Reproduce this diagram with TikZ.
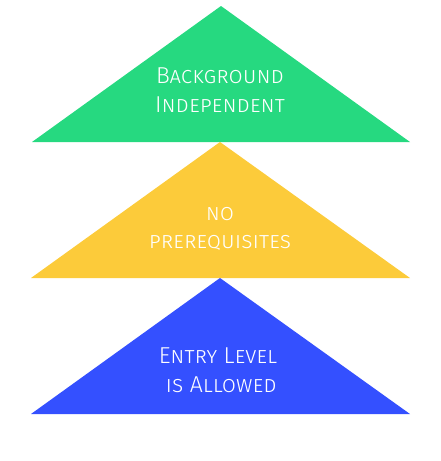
\documentclass[tikz,border=0pt]{standalone}
\usepackage{fontspec}
\setmainfont{Fira Sans Light}[Letters=SmallCaps]
\definecolor{tgreen}{RGB}{38,217,128}
\definecolor{tyellow}{RGB}{252,203,58}
\definecolor{tblue}{RGB}{52,80,255}
\begin{document}
\begin{tikzpicture}[x=1pt, y=-1pt, line join=miter,
                    label/.style={text=white, font=\fontsize{23}{28.5}\selectfont,
                                  align=center, inner sep=0pt}]
  \useasboundingbox (0,0) rectangle (441,461);
  % three stacked triangles, apex on top, bases 136px apart
  \coordinate (gL) at (32, 142);  % green base left
  \coordinate (gR) at (410,142);  % green base right
  \coordinate (gT) at (221,6);    % green apex
  \coordinate (yL) at (31, 278);
  \coordinate (yR) at (410,278);
  \coordinate (yT) at (220,142);
  \coordinate (bL) at (31, 414);
  \coordinate (bR) at (410,414);
  \coordinate (bT) at (220,278);

  % ---- Triangles ----
  \fill[tgreen]  (gL) -- (gR) -- (gT) -- cycle;
  \fill[tyellow] (yL) -- (yR) -- (yT) -- cycle;
  \fill[tblue]   (bL) -- (bR) -- (bT) -- cycle;

  % ---- Labels ----
  \node[label] (bg)  at (220,90)  {Background\\Independent};
  \node[label] (pre) at (220,229) {no\\prerequisites};
  \node[label] (ent) at (218,370) {Entry Level\\\ is Allowed};
\end{tikzpicture}
\end{document}
